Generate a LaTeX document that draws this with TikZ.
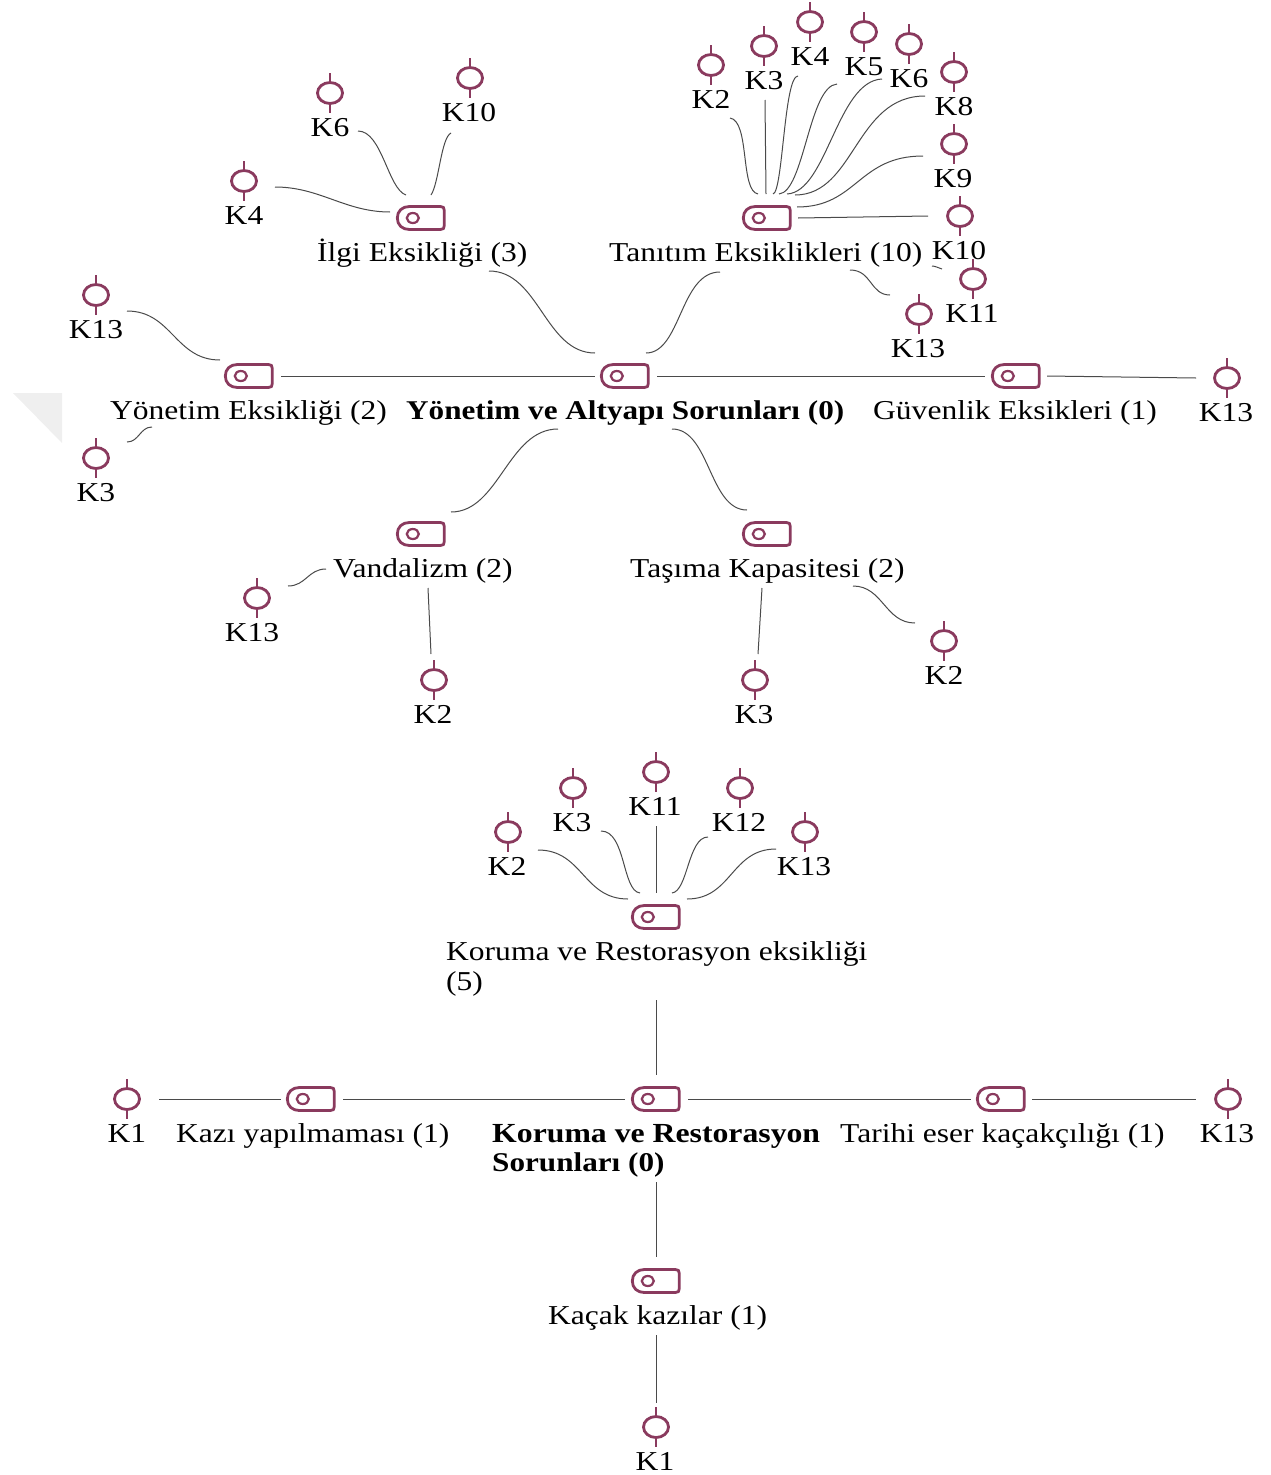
\documentclass[tikz,border=0pt]{standalone}
\usepackage{fontspec}
\setmainfont[FakeStretch=1.155,BoldFeatures={FakeStretch=1.15}]{Liberation Serif}
\usetikzlibrary{calc,shapes.geometric}
\definecolor{plum}{HTML}{8A3A5E}
\definecolor{wirecol}{HTML}{4A4A4A}
\definecolor{markgray}{HTML}{EFEFEF}
\tikzset{
  wire/.style={draw=wirecol,line width=1pt},
  lbl/.style={font=\fontsize{27.3}{30}\selectfont,text=black,inner sep=0pt,anchor=base west},
  klbl/.style={font=\fontsize{27.3}{30}\selectfont,text=black,inner sep=0pt,anchor=base},
  quoteicon/.style={ellipse,draw=plum,line width=2.8pt,minimum width=25pt,minimum height=21pt,inner sep=0pt},
  tick/.style={draw=plum,line width=2.8pt},
  codeicon/.style={inner sep=0pt,minimum width=47pt,minimum height=23pt},
  iconline/.style={draw=plum,line width=2.8pt,line join=round},
}
% quotation icon with ticks and its caption
\newcommand{\kq}[5]{% name, x, y, label x, text
  \node[quoteicon] (#1) at (#2,#3) {};
  \draw[tick] (#1.north) -- ++(0,-8);
  \draw[tick] (#1.south) -- ++(0,8);
  \node[klbl] (#1t) at (#4,#3+43) {#5};
}
% code icon
\newcommand{\cd}[3]{% name, x, y
  \node[codeicon] (#1) at (#2,#3) {};
  \draw[iconline] (#1.west) .. controls +(0,-7) and +(-7,0) .. ++(12,-11.5)
     -- ++(31,0) .. controls +(3,0) and +(0,-3) .. ++(4,4)
     -- ++(0,15) .. controls +(0,3) and +(3,0) .. ++(-4,4)
     -- ++(-31,0) .. controls +(-7,0) and +(0,7) .. cycle;
  \draw[draw=plum,line width=2.2pt] ($(#1.west)+(15.5,0)$) ellipse (6 and 5);
}
% curved connector: start, first control, second control, end
\newcommand{\cv}[4]{\draw[wire] (#1) .. controls +(#2) and +(#3) .. (#4);}
\begin{document}
\begin{tikzpicture}[x=1pt,y=-1pt]
\useasboundingbox (0,0) rectangle (1270,1475);
\fill[markgray] (13,393) -- (62,393) -- (62,443) -- cycle;

% code icons
\cd{ilgi}{421}{218}
\cd{tan}{767}{218}
\cd{yon}{249}{376}
\cd{hub}{625}{376}
\cd{guv}{1016}{376}
\cd{van}{421}{534}
\cd{tas}{767}{534}
\cd{kor}{656}{917}
\cd{res}{656}{1099}
\cd{kazi}{311}{1099}
\cd{tar}{1001}{1099}
\cd{kac}{656}{1281}

% captions
\node[lbl] (ilgit) at (317,261) {İlgi Eksikliği (3)};
\node[lbl] (tant) at (609,261) {Tanıtım Eksiklikleri (10)};
\node[lbl] (yont) at (110,419) {Yönetim Eksikliği (2)};
\node[lbl,font=\fontsize{27.1}{30}\selectfont\bfseries] (hubt) at (406,419) {Yönetim ve Altyapı Sorunları (0)};
\node[lbl] (guvt) at (873,419) {Güvenlik Eksikleri (1)};
\node[lbl] (vant) at (333,577) {Vandalizm (2)};
\node[lbl] (tast) at (630,577) {Taşıma Kapasitesi (2)};
\node[lbl] (kort) at (446,960) {Koruma ve Restorasyon eksikliği};
\node[lbl] (kort2) at (446,990) {(5)};
\node[lbl,font=\fontsize{27.6}{30}\selectfont\bfseries] (rest) at (492,1142) {Koruma ve Restorasyon};
\node[lbl,font=\fontsize{27.1}{30}\selectfont\bfseries] (rest2) at (492,1171) {Sorunları (0)};
\node[lbl] (kazit) at (176,1142) {Kazı yapılmaması (1)};
\node[lbl] (tart) at (840,1142) {Tarihi eser kaçakçılığı (1)};
\node[lbl] (kact) at (548,1324) {Kaçak kazılar (1)};

% quotation icons
\kq{a4}{244}{181}{244}{K4}
\kq{a6}{330}{93}{330}{K6}
\kq{a10}{470}{78}{469}{K10}
\kq{b2}{711}{65}{711}{K2}
\kq{b3}{764}{46}{764}{K3}
\kq{b4}{810}{22}{810}{K4}
\kq{b5}{864}{32}{864}{K5}
\kq{b6}{909}{44}{909}{K6}
\kq{b8}{954}{72}{954}{K8}
\kq{b9}{954}{144}{953}{K9}
\kq{b10}{960}{216}{959}{K10}
\kq{b11}{973}{279}{972}{K11}
\kq{b13}{919}{314}{918}{K13}
\kq{c13}{96}{295}{96}{K13}
\kq{c3}{96}{458}{96}{K3}
\kq{d13}{1227}{378}{1226}{K13}
\kq{e13}{257}{598}{252}{K13}
\kq{e2}{434}{680}{433}{K2}
\kq{f3}{755}{680}{754}{K3}
\kq{f2}{944}{641}{944}{K2}
\kq{g2}{508}{832}{507}{K2}
\kq{g3}{573}{788}{572}{K3}
\kq{g11}{656}{772}{655}{K11}
\kq{g12}{740}{788}{739}{K12}
\kq{g13}{805}{832}{804}{K13}
\kq{h1}{127}{1099}{127}{K1}
\kq{i13}{1228}{1099}{1227}{K13}
\kq{j1}{656}{1427}{655}{K1}

% connectors: İlgi
\cv{$(a4)+(31,6)$}{45,0}{-45,0}{$(ilgi)+(-31,-6)$}
\cv{$(a6)+(28,38)$}{24,0}{-18,-6}{$(ilgi)+(-15,-23)$}
\cv{$(a10)+(-19,55)$}{-10,5}{8,-12}{$(ilgi)+(10,-23)$}
% Tanıtım
\cv{$(b2)+(19,53)$}{20,3}{-18,-3}{$(tan)+(-9,-24)$}
\draw[wire] ($(b3)+(1,54)$) -- ($(tan)+(-1,-24)$);
\cv{$(b4)+(-12,54)$}{-14,0}{10,-2}{$(tan)+(6,-24)$}
\cv{$(b5)+(-27,52)$}{-28,2}{25,-2}{$(tan)+(12,-24)$}
\cv{$(b6)+(-27,35)$}{-45,2}{40,-2}{$(tan)+(20,-24)$}
\cv{$(b8)+(-29,24)$}{-70,0}{60,0}{$(tan)+(28,-23)$}
\cv{$(b9)+(-31,12)$}{-65,0}{60,0}{$(tan)+(30,-11)$}
\draw[wire] ($(b10)+(-32,0)$) -- ($(tan)+(31,0)$);
\cv{$(tan)+(165,48)$}{3,0}{-3,-1}{$(b11)+(-31,-10)$}
\cv{$(tan)+(83,52)$}{22,0}{-20,0}{$(b13)+(-29,-19)$}
% Yönetim Eksikliği
\cv{$(c13)+(31,16)$}{45,0}{-45,0}{$(yon)+(-29,-16)$}
\cv{$(c3)+(31,-16)$}{12,0}{-12,0}{$(yon)+(-97,51)$}
% hub
\draw[wire] ($(yon)+(32,0)$) -- ($(hub)+(-30,0)$);
\draw[wire] ($(hub)+(32,0)$) -- ($(guv)+(-31,0)$);
\draw[wire] ($(guv)+(31,0)$) -- ($(d13)+(-31,0)$);
\cv{$(ilgi)+(68,53)$}{50,0}{-50,0}{$(hub)+(-30,-23)$}
\cv{$(tan)+(-47,54)$}{-40,0}{35,0}{$(hub)+(21,-23)$}
\cv{$(hub)+(-67,53)$}{-50,0}{48,0}{$(van)+(30,-22)$}
\cv{$(hub)+(47,53)$}{38,0}{-38,0}{$(tas)+(-20,-24)$}
% Vandalizm, Taşıma
\cv{$(e13)+(31,-12)$}{18,0}{-18,0}{$(van)+(-95,35)$}
\draw[wire] ($(van)+(7,54)$) -- ($(e2)+(-3,-26)$);
\draw[wire] ($(tas)+(-5,54)$) -- ($(f3)+(3,-26)$);
\cv{$(tas)+(86,52)$}{30,0}{-30,0}{$(f2)+(-29,-18)$}
% Koruma ve Restorasyon eksikliği
\cv{$(g2)+(30,18)$}{45,0}{-45,0}{$(kor)+(-28,-18)$}
\cv{$(g3)+(28,43)$}{25,0}{-18,-2}{$(kor)+(-16,-24)$}
\draw[wire] ($(g11)+(0,54)$) -- ($(kor)+(0,-24)$);
\cv{$(g12)+(-32,49)$}{-20,0}{16,-2}{$(kor)+(16,-24)$}
\cv{$(g13)+(-29,17)$}{-45,0}{45,0}{$(kor)+(31,-18)$}
% Koruma ve Restorasyon
\draw[wire] ($(kor)+(0,83)$) -- ($(res)+(0,-24)$);
\draw[wire] ($(h1)+(32,0)$) -- ($(kazi)+(-30,0)$);
\draw[wire] ($(kazi)+(32,0)$) -- ($(res)+(-31,0)$);
\draw[wire] ($(res)+(32,0)$) -- ($(tar)+(-30,0)$);
\draw[wire] ($(tar)+(31,0)$) -- ($(i13)+(-32,0)$);
\draw[wire] ($(res)+(0,83)$) -- ($(kac)+(0,-24)$);
\draw[wire] ($(kac)+(0,54)$) -- ($(j1)+(0,-24)$);
\end{tikzpicture}
\end{document}
